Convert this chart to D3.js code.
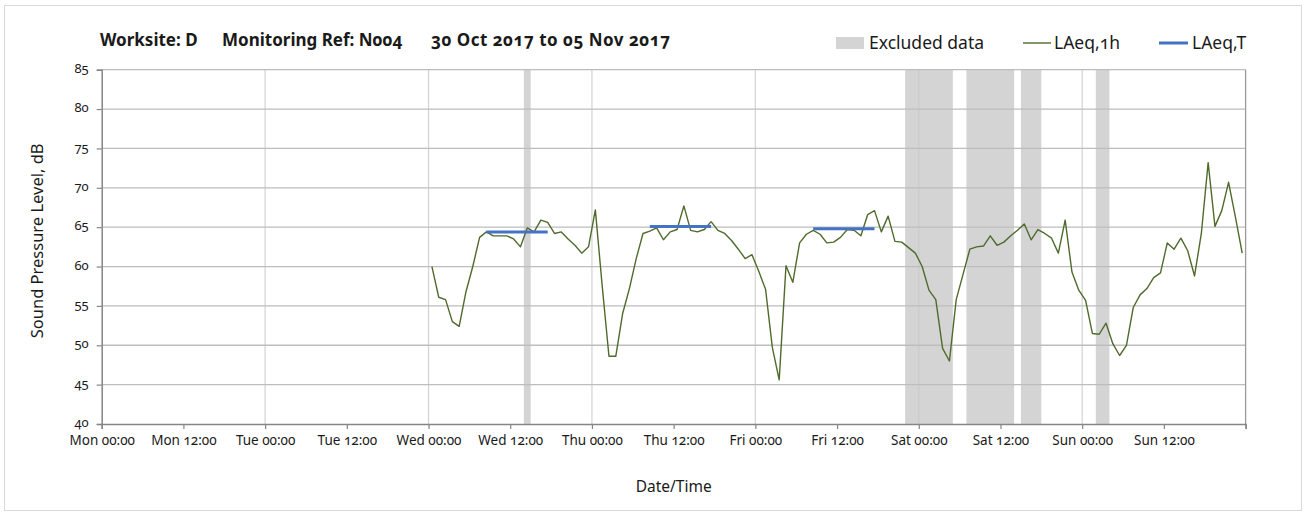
<!DOCTYPE html>
<html>
<head>
<meta charset="utf-8">
<script src="https://cdn.jsdelivr.net/npm/d3@7"></script>
<style>
  html, body { margin: 0; padding: 0; background: #ffffff; }
  svg { display: block; }
  text { font-family: "Noto Sans", "Open Sans", sans-serif; fill: #1a1a1a; font-variant-numeric: oldstyle-nums; }
</style>
</head>
<body>
<div id="chart"></div>
<script>
// ---------------- DATA ----------------
const titleParts = ["Worksite: D", "Monitoring Ref: N004", "30 Oct 2017 to 05 Nov 2017"];
const axisStart = "2017-10-30T00:00:00Z";
const axisEnd = "2017-11-06T00:00:00Z";
const xTickLabels = ["Mon 00:00", "Mon 12:00", "Tue 00:00", "Tue 12:00", "Wed 00:00", "Wed 12:00", "Thu 00:00",
                     "Thu 12:00", "Fri 00:00", "Fri 12:00", "Sat 00:00", "Sat 12:00", "Sun 00:00", "Sun 12:00"];
const yTicks = [40, 45, 50, 55, 60, 65, 70, 75, 80, 85];

// hourly LAeq,1h values, first value at Wed 01 Nov 00:30, one per hour
const hourlyStart = "2017-11-01T00:30:00Z";
const laeq1h = [
  60.0, 56.1, 55.8, 53.0, 52.4, 56.8, 60.0, 63.7, 64.4, 63.9, 63.9, 63.9, 63.5, 62.5, 64.9, 64.4, 65.9, 65.6, 64.2, 64.4, 63.5, 62.7, 61.7, 62.5,
  67.2, 57.6, 48.6, 48.6, 54.0, 57.2, 61.0, 64.2, 64.5, 64.9, 63.4, 64.4, 64.7, 67.7, 64.6, 64.4, 64.7, 65.7, 64.6, 64.2, 63.3, 62.2, 61.0, 61.5,
  59.4, 57.1, 49.7, 45.6, 60.1, 58.0, 63.0, 64.1, 64.6, 64.1, 63.0, 63.1, 63.7, 64.7, 64.6, 63.9, 66.6, 67.1, 64.4, 66.4, 63.2, 63.1, 62.4, 61.7,
  60.0, 57.0, 55.8, 49.6, 48.0, 55.8, 59.0, 62.2, 62.5, 62.6, 63.9, 62.7, 63.1, 63.9, 64.6, 65.4, 63.4, 64.7, 64.2, 63.6, 61.7, 65.9, 59.3, 57.0,
  55.7, 51.5, 51.4, 52.8, 50.2, 48.7, 50.0, 54.8, 56.4, 57.2, 58.6, 59.2, 63.0, 62.2, 63.6, 62.0, 58.8, 64.2, 73.2, 65.1, 67.1, 70.7, 66.3, 61.7
];

// LAeq,T daytime periods
const laeqTStart = ["2017-11-01T08:30:00Z", "2017-11-02T08:30:00Z", "2017-11-03T08:30:00Z"];
const laeqTEnd   = ["2017-11-01T17:30:00Z", "2017-11-02T17:30:00Z", "2017-11-03T17:30:00Z"];
const laeqTValue = [64.4, 65.1, 64.8];

// excluded data periods
const excludedStart = ["2017-11-01T14:00:00Z", "2017-11-03T22:00:00Z", "2017-11-04T07:00:00Z", "2017-11-04T15:00:00Z", "2017-11-05T02:00:00Z"];
const excludedEnd   = ["2017-11-01T15:00:00Z", "2017-11-04T05:00:00Z", "2017-11-04T14:00:00Z", "2017-11-04T18:00:00Z", "2017-11-05T04:00:00Z"];

// ---------------- CHART ----------------
const W = 1307, H = 522;
const plot = { left: 101.7, right: 1245.6, top: 69.7, bottom: 424 };

const svg = d3.select("#chart").append("svg").attr("width", W).attr("height", H);
svg.append("rect").attr("x", 0).attr("y", 0).attr("width", W).attr("height", H).attr("fill", "#fff");
svg.append("rect").attr("x", 4.5).attr("y", 5.5).attr("width", 1297).attr("height", 505)
  .attr("fill", "#fff").attr("stroke", "#d9d9d9").attr("stroke-width", 1);

const x = d3.scaleUtc().domain([new Date(axisStart), new Date(axisEnd)]).range([plot.left, plot.right]);
const y = d3.scaleLinear().domain([40, 85]).range([plot.bottom, plot.top]);

const t0 = new Date(hourlyStart);
const hourly = laeq1h.map((v, i) => ({ t: d3.utcHour.offset(t0, i), v }));

// excluded bands
svg.append("g").selectAll("rect").data(excludedStart.map((s, i) => ({ s: new Date(s), e: new Date(excludedEnd[i]) })))
  .join("rect")
  .attr("x", d => x(d.s)).attr("width", d => x(d.e) - x(d.s))
  .attr("y", plot.top).attr("height", plot.bottom - plot.top)
  .attr("fill", "#d4d4d4");

// vertical gridlines every 24h
const dayTicks = d3.utcDay.range(new Date(axisStart), d3.utcHour.offset(new Date(axisEnd), 1)).slice(1, -1);
svg.append("g").selectAll("line").data(dayTicks).join("line")
  .attr("x1", d => x(d)).attr("x2", d => x(d)).attr("y1", plot.top).attr("y2", plot.bottom)
  .attr("stroke", "#c8c8c8").attr("stroke-opacity", 0.75).attr("stroke-width", 1.3);

// horizontal gridlines
svg.append("g").selectAll("line").data(yTicks.slice(1)).join("line")
  .attr("x1", plot.left).attr("x2", plot.right).attr("y1", d => y(d)).attr("y2", d => y(d))
  .attr("stroke", "#bdbdbd").attr("stroke-width", 1.3);

// right border
svg.append("line").attr("x1", plot.right).attr("x2", plot.right).attr("y1", plot.top).attr("y2", plot.bottom)
  .attr("stroke", "#9a9a9a").attr("stroke-width", 1.3);

// axes
const tickDates = d3.utcHour.every(12).range(new Date(axisStart), d3.utcHour.offset(new Date(axisEnd), 1));
const xAxis = d3.axisBottom(x).tickValues(tickDates).tickSize(5)
  .tickFormat((d, i) => xTickLabels[i] || "");
const gx = svg.append("g").attr("transform", `translate(0,${plot.bottom})`).call(xAxis);
gx.select(".domain").attr("stroke", "#868686").attr("stroke-width", 1.5);
gx.selectAll(".tick line").attr("stroke", "#868686").attr("stroke-width", 1.2);
gx.selectAll(".tick text").attr("font-size", 13.5).attr("dy", "0.71em").attr("y", 11)
  .style("font-family", "'Noto Sans', sans-serif").attr("fill", "#1a1a1a");

const yAxis = d3.axisLeft(y).tickValues(yTicks).tickSize(5).tickFormat(d3.format("d"));
const gy = svg.append("g").attr("transform", `translate(${plot.left},0)`).call(yAxis);
gy.select(".domain").attr("stroke", "#868686").attr("stroke-width", 1.5);
gy.selectAll(".tick line").attr("stroke", "#868686").attr("stroke-width", 1.2);
gy.selectAll(".tick text").attr("font-size", 13).attr("x", -13).attr("dy", "0.2em").attr("fill", "#1a1a1a")
  .style("font-family", "'Noto Sans', sans-serif");

// LAeq,1h line
const line = d3.line().x(d => x(d.t)).y(d => y(d.v));
svg.append("path").datum(hourly).attr("d", line)
  .attr("fill", "none").attr("stroke", "#4f6b2c").attr("stroke-width", 1.4).attr("stroke-linejoin", "round");

// LAeq,T lines
svg.append("g").selectAll("line").data(laeqTValue.map((v, i) => ({ s: new Date(laeqTStart[i]), e: new Date(laeqTEnd[i]), v })))
  .join("line")
  .attr("x1", d => x(d.s)).attr("x2", d => x(d.e)).attr("y1", d => y(d.v)).attr("y2", d => y(d.v))
  .attr("stroke", "#4472c4").attr("stroke-width", 3);

// title
const titleX = [100, 222, 431];
const titleLen = [null, null, 239];
svg.append("g").selectAll("text").data(titleParts).join("text")
  .attr("x", (d, i) => titleX[i]).attr("y", 46)
  .attr("font-size", 17).attr("font-weight", "bold")
  .each(function (d, i) { if (titleLen[i]) d3.select(this).attr("textLength", titleLen[i]).attr("lengthAdjust", "spacing"); })
  .text(d => d);

// axis titles
svg.append("text").attr("x", (plot.left + plot.right) / 2).attr("y", 492)
  .attr("text-anchor", "middle").attr("font-size", 15.5).text("Date/Time");
svg.append("text").attr("transform", `translate(43,${(plot.top + plot.bottom) / 2 - 6}) rotate(-90)`)
  .attr("text-anchor", "middle").attr("font-size", 16.5).text("Sound Pressure Level, dB");

// legend
const lg = svg.append("g");
lg.append("rect").attr("x", 836).attr("y", 37).attr("width", 28).attr("height", 12).attr("fill", "#d4d4d4");
lg.append("text").attr("x", 869).attr("y", 49).attr("font-size", 17.5).text("Excluded data");
lg.append("line").attr("x1", 1023).attr("x2", 1051).attr("y1", 43).attr("y2", 43).attr("stroke", "#4f6b2c").attr("stroke-width", 1.4);
lg.append("text").attr("x", 1054).attr("y", 49).attr("font-size", 17.5).text("LAeq,1h");
lg.append("line").attr("x1", 1159).attr("x2", 1188).attr("y1", 43).attr("y2", 43).attr("stroke", "#4472c4").attr("stroke-width", 3);
lg.append("text").attr("x", 1192).attr("y", 49).attr("font-size", 17.5).text("LAeq,T");
</script>
</body>
</html>
